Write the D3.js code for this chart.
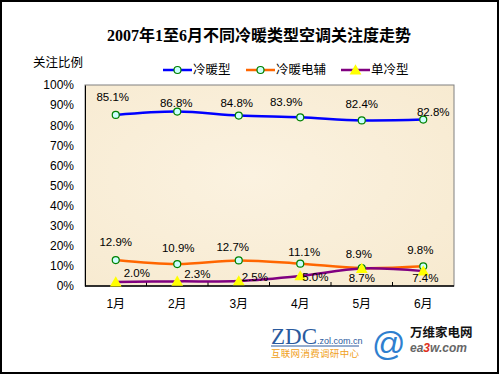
<!DOCTYPE html>
<html>
<head>
<meta charset="utf-8">
<script src="https://cdn.jsdelivr.net/npm/d3@7"></script>
<style>
  body { margin: 0; background: #fff; }
  svg text { font-family: "Liberation Sans", Arial, "Noto Sans CJK SC", sans-serif; }
</style>
</head>
<body>
<svg id="chart" width="500" height="375"></svg>
<script>
// data
const months = ["1月", "2月", "3月", "4月", "5月", "6月"];
const seriesNames = ["冷暖型", "冷暖电辅", "单冷型"];
const warmCool = [85.1, 86.8, 84.8, 83.9, 82.4, 82.8];
const warmElec = [12.9, 10.9, 12.7, 11.1, 8.9, 9.8];
const coolOnly = [2.0, 2.3, 2.5, 5.0, 8.7, 7.4];
const yTicks = [0, 10, 20, 30, 40, 50, 60, 70, 80, 90, 100];

// label nudges (px, relative to each point) -- excel put them by hand
const labelNudge = [
    [[-3, -18], [-1, -9], [-2, -13], [-14, -15], [0, -16], [10, -8]],
    [[0, -18], [1, -16], [-6, -13], [4, -12], [-3, -14], [-3, -16]],
    [[21, -9], [20, -7], [16, -4], [15, 1], [0, 9], [2, 7]]
];

const colours = ["#0000ff", "#ff6600", "#800080"];
const allSeries = [warmCool, warmElec, coolOnly];

const svg = d3.select("#chart");
const plot = { left: 85, right: 454, top: 85, bottom: 286 };

// outer frame
svg.append("rect")
    .attr("x", 1).attr("y", 1).attr("width", 497).attr("height", 372)
    .attr("fill", "#fff").attr("stroke", "#000").attr("stroke-width", 2);

// title
svg.append("text")
    .attr("x", 259).attr("y", 35)
    .attr("text-anchor", "middle").attr("dominant-baseline", "central")
    .style("font-family", "'Liberation Serif', 'Noto Sans CJK SC', serif")
    .style("font-weight", "bold").style("font-size", "16px")
    .text("2007年1至6月不同冷暖类型空调关注度走势");

svg.append("text")
    .attr("x", 33).attr("y", 63).attr("dominant-baseline", "central")
    .style("font-size", "12.5px")
    .text("关注比例");

const x = d3.scaleBand().domain(months).range([plot.left, plot.right]);
const y = d3.scaleLinear().domain([0, 100]).range([plot.bottom, plot.top]);
const cx = (m) => x(m) + x.bandwidth() / 2;

// parchment plot area
const defs = svg.append("defs");
const grad = defs.append("radialGradient").attr("id", "paper").attr("cx", "45%").attr("cy", "45%").attr("r", "75%");
grad.append("stop").attr("offset", "0%").attr("stop-color", "#fbf2e0");
grad.append("stop").attr("offset", "100%").attr("stop-color", "#f7ead0");

svg.append("rect")
    .attr("x", plot.left).attr("y", plot.top)
    .attr("width", plot.right - plot.left).attr("height", plot.bottom - plot.top)
    .attr("fill", "url(#paper)").attr("stroke", "#808080").attr("stroke-width", 1);

// y axis labels
const yAxis = svg.append("g")
    .attr("transform", `translate(${plot.left},0)`)
    .call(d3.axisLeft(y).tickValues(yTicks).tickSize(0).tickPadding(11).tickFormat(d => d + "%"));
yAxis.select(".domain").attr("stroke", "#000");
yAxis.selectAll("text").style("font-size", "12px").style("font-family", "'Liberation Sans', Arial, sans-serif");

// x axis: ticks between categories, pointing in
const xAxis = svg.append("g").attr("transform", `translate(0,${plot.bottom})`);
xAxis.append("line")
    .attr("x1", plot.left).attr("x2", plot.right)
    .attr("stroke", "#000").attr("stroke-width", 1.5);
xAxis.selectAll("line.tick")
    .data(months.slice(1))
    .join("line")
    .attr("class", "tick")
    .attr("x1", d => x(d)).attr("x2", d => x(d))
    .attr("y1", 0).attr("y2", -4)
    .attr("stroke", "#000");
xAxis.selectAll("text")
    .data(months)
    .join("text")
    .attr("x", cx).attr("y", 18)
    .attr("text-anchor", "middle").attr("dominant-baseline", "central")
    .style("font-size", "12px")
    .text(d => d);

// lines
const line = d3.line()
    .x((d, i) => cx(months[i]))
    .y(d => y(d))
    .curve(d3.curveCatmullRom.alpha(0.5));

allSeries.forEach((vals, s) => {
    svg.append("path")
        .datum(vals)
        .attr("d", line)
        .attr("fill", "none")
        .attr("stroke", colours[s])
        .attr("stroke-width", 2.5);
});

const triangle = d3.symbol().type(d3.symbolTriangle).size(60);

function drawMarker(g, s, px, py) {
    if (s < 2) {
        g.append("circle")
            .attr("cx", px).attr("cy", py).attr("r", 3.5)
            .attr("fill", "#ccffff").attr("stroke", "#008000").attr("stroke-width", 1.2);
    } else {
        g.append("path")
            .attr("d", triangle)
            .attr("transform", `translate(${px},${py + 1})`)
            .attr("fill", "#ffff00");
    }
}

// markers + value labels
allSeries.forEach((vals, s) => {
    const g = svg.append("g");
    vals.forEach((v, i) => {
        drawMarker(g, s, cx(months[i]), y(v));
    });
    g.selectAll("text.val")
        .data(vals)
        .join("text")
        .attr("class", "val")
        .attr("x", (d, i) => cx(months[i]) + labelNudge[s][i][0])
        .attr("y", (d, i) => y(d) + labelNudge[s][i][1])
        .attr("text-anchor", "middle").attr("dominant-baseline", "central")
        .style("font-size", "11.5px")
        .text(d => d.toFixed(1) + "%");
});

// legend
const legendX = [163, 246, 341];
seriesNames.forEach((name, s) => {
    const lg = svg.append("g").attr("transform", `translate(${legendX[s]},70)`);
    lg.append("line").attr("x1", 0).attr("x2", 29)
        .attr("stroke", colours[s]).attr("stroke-width", 2.5);
    drawMarker(lg, s, 14.5, 0);
    lg.append("text").attr("x", 30).attr("y", 0)
        .attr("dominant-baseline", "central")
        .style("font-size", "12.5px")
        .text(name);
});

// logos at the bottom, rough
const logo = svg.append("g");
logo.append("text").attr("x", 271).attr("y", 344)
    .style("font-family", "'Liberation Serif', serif").style("font-size", "23px")
    .attr("fill", "#2a5a9e").attr("textLength", 46).text("ZDC");
logo.append("text").attr("x", 317).attr("y", 344)
    .style("font-size", "9px").attr("fill", "#2a5a9e").text(".zol.com.cn");
logo.append("line").attr("x1", 271).attr("x2", 359).attr("y1", 346).attr("y2", 346)
    .attr("stroke", "#2a5a9e").attr("stroke-width", 1);
logo.append("text").attr("x", 271).attr("y", 357)
    .style("font-size", "9.5px").attr("fill", "#f0a020").attr("textLength", 88).text("互联网消费调研中心");
logo.append("text").attr("x", 372).attr("y", 355)
    .style("font-size", "33px").attr("fill", "#2f7fcf").text("@");
logo.append("text").attr("x", 410).attr("y", 337)
    .style("font-size", "12.5px").style("font-weight", "bold").attr("fill", "#111").text("万维家电网");
const ea = logo.append("text").attr("x", 410).attr("y", 352)
    .style("font-size", "12px").style("font-style", "italic").style("font-weight", "bold").attr("fill", "#666");
ea.append("tspan").text("ea");
ea.append("tspan").attr("fill", "#e03020").text("3");
ea.append("tspan").text("w.com");
</script>
</body>
</html>
